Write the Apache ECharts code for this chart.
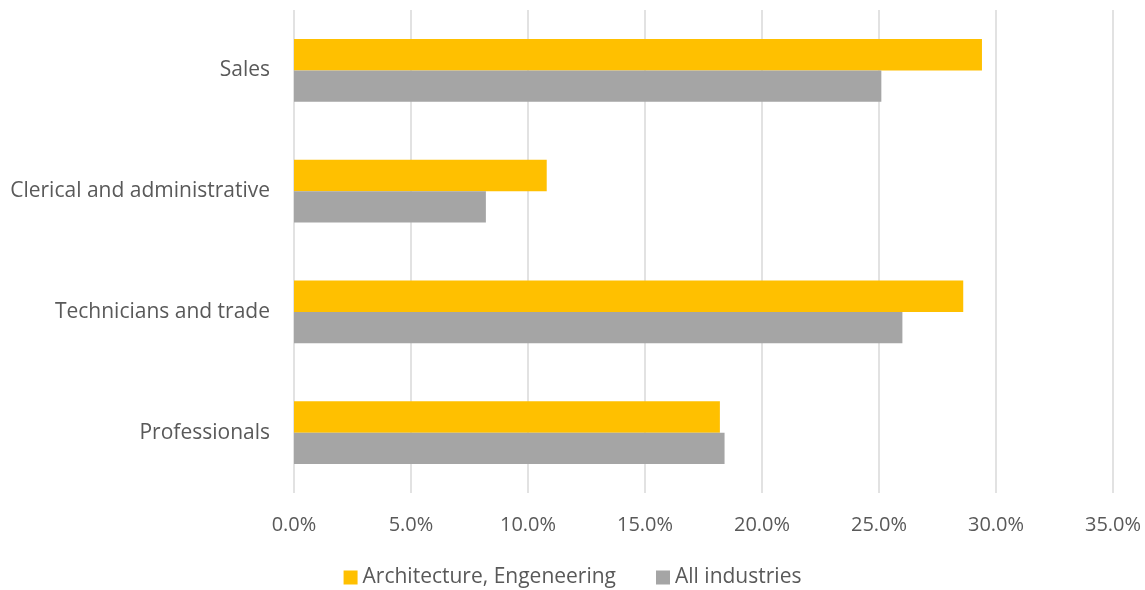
<!DOCTYPE html>
<html>
<head>
<meta charset="utf-8">
<script src="https://cdn.jsdelivr.net/npm/echarts@6/dist/echarts.min.js"></script>
<style>
html, body { margin: 0; padding: 0; background: #fff; }
#chart { width: 1145px; height: 590px; }
</style>
</head>
<body>
<div id="chart"></div>
<script>
var categories = ['Professionals', 'Technicians and trade', 'Clerical and administrative', 'Sales'];
var archEng = [18.2, 28.6, 10.8, 29.4];
var allInd = [18.4, 26.0, 8.2, 25.1];
var seriesNames = ['Architecture, Engeneering', 'All industries'];

var myChart = echarts.init(document.getElementById('chart'));
var option = {
	animation: false,
	textStyle: { fontFamily: 'Open Sans' },
	grid: { left: 294, right: 32, top: 10, bottom: 97, containLabel: false },
	legend: {
		bottom: -3,
		left: 'center',
		itemWidth: 14,
		itemHeight: 14,
		itemGap: 40,
		icon: 'rect',
		textStyle: { color: '#595959', fontSize: 21, fontFamily: 'Open Sans' },
		data: seriesNames
	},
	xAxis: {
		type: 'value',
		min: 0,
		max: 35,
		interval: 5,
		axisLine: { show: false },
		axisTick: { show: false },
		splitLine: { lineStyle: { color: '#d9d9d9', width: 1.5 } },
		axisLabel: {
			margin: 22,
			color: '#595959',
			fontSize: 20,
			formatter: function(v) { return v.toFixed(1) + '%'; }
		}
	},
	yAxis: {
		type: 'category',
		data: categories,
		axisLine: { show: false },
		axisTick: { show: false },
		axisLabel: { margin: 24, color: '#595959', fontSize: 21 }
	},
	series: [
		{
			name: seriesNames[0],
			type: 'bar',
			data: archEng,
			barGap: '0%',
			barCategoryGap: '48%',
			itemStyle: { color: '#FFC000' }
		},
		{
			name: seriesNames[1],
			type: 'bar',
			data: allInd,
			barGap: '0%',
			barCategoryGap: '48%',
			itemStyle: { color: '#A5A5A5' }
		}
	]
};
myChart.setOption(option);
</script>
</body>
</html>
